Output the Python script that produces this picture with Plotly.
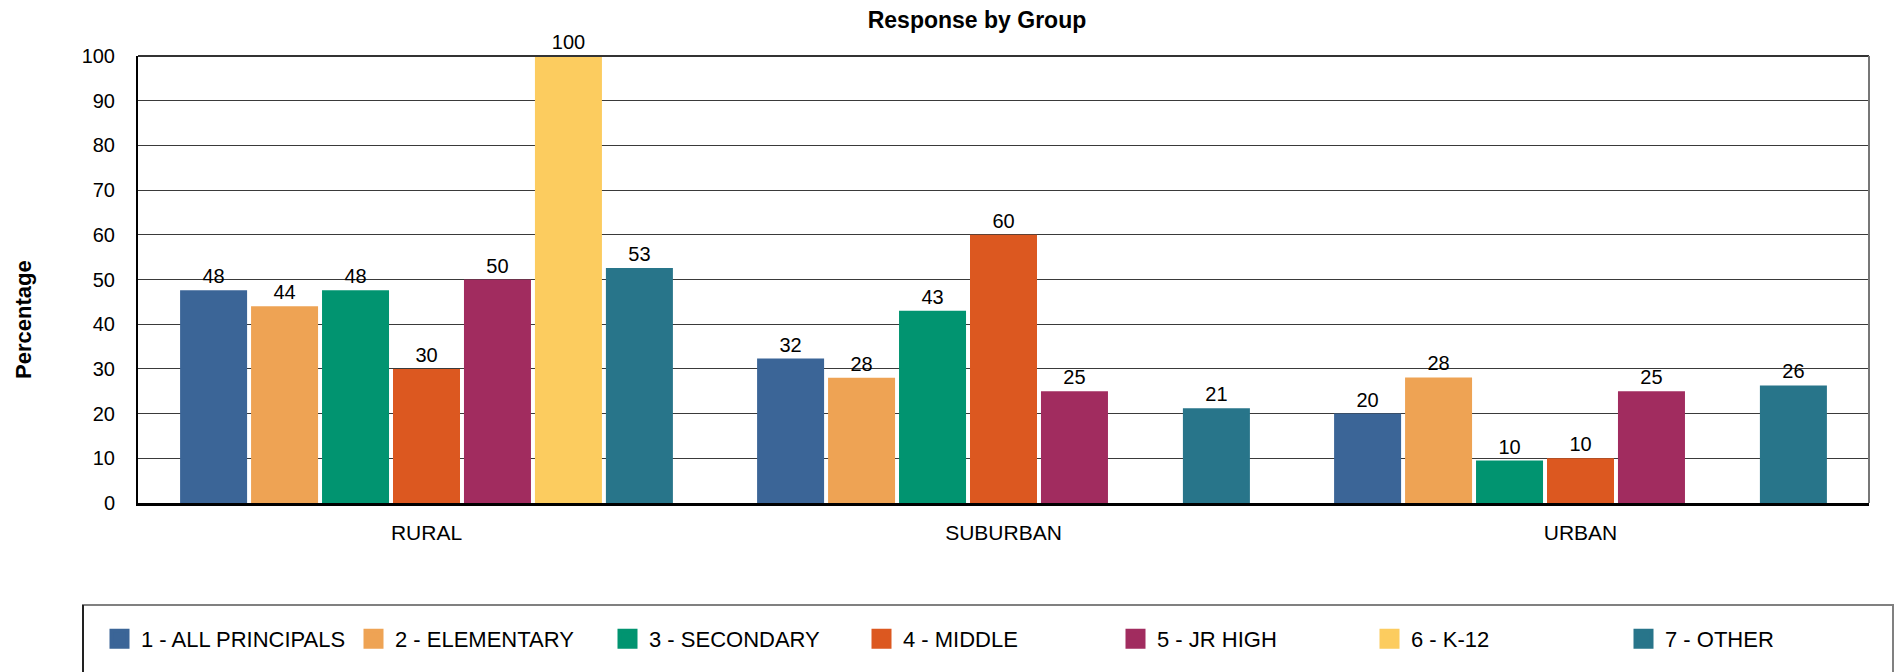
import plotly.graph_objects as go

categories = ["RURAL", "SUBURBAN", "URBAN"]
series_names = ["1 - ALL PRINCIPALS", "2 - ELEMENTARY", "3 - SECONDARY", "4 - MIDDLE",
                "5 - JR HIGH", "6 - K-12", "7 - OTHER"]
colors = ["#3B6597", "#EEA354", "#019470", "#DC5820", "#A12C5F", "#FCCC5F", "#28758A"]

all_principals = [47.6, 32.3, 20.0]
elementary = [44.0, 28.0, 28.1]
secondary = [47.6, 43.0, 9.5]
middle = [30.0, 60.0, 10.0]
jr_high = [50.0, 25.0, 25.0]
k12 = [100.0, None, None]
other = [52.6, 21.2, 26.3]

series_values = [all_principals, elementary, secondary, middle, jr_high, k12, other]

W, H = 1904, 672
L, R, T, B = 138, 1869, 56, 503
FONT = "Liberation Sans, Arial, sans-serif"

fig = go.Figure()
for name, vals, col in zip(series_names, series_values, colors):
    fig.add_trace(go.Bar(
        name=name, x=categories, y=vals, marker_color=col, marker_line_width=0,
        text=[None if v is None else f"{v:.0f}" for v in vals],
        textposition="outside", textfont=dict(size=20, color="#000", family=FONT),
        cliponaxis=False, showlegend=False,
    ))
# legend entries (square swatches)
for name, col in zip(series_names, colors):
    fig.add_trace(go.Scatter(
        name=name, x=[None], y=[None], mode="markers",
        marker=dict(symbol="square", size=16, color=col, line=dict(color=col, width=4)),
        showlegend=True,
    ))

def px(x):
    return (x - L) / (R - L)

def py(y):
    return (B - y) / (B - T)

fig.update_layout(
    width=W, height=H,
    margin=dict(l=L, r=W - R, t=T, b=H - B, autoexpand=False),
    paper_bgcolor="white", plot_bgcolor="white",
    font=dict(family=FONT, size=20, color="#000"),
    barmode="group", bargap=0.139, bargroupgap=0.056,
    title=dict(text="<b>Response by Group</b>", x=977 / W, xanchor="center",
               y=1 - 20 / H, yanchor="middle", font=dict(size=23, family=FONT)),
    showlegend=True,
    legend=dict(orientation="h", xref="paper", yref="paper",
                x=px(98), xanchor="left", y=py(639), yanchor="middle",
                font=dict(size=22, family=FONT), itemwidth=33,
                entrywidth=206, entrywidthmode="pixels",
                bgcolor="rgba(0,0,0,0)", traceorder="normal"),
    xaxis=dict(showline=True, linecolor="#000", linewidth=3, showgrid=False,
               ticks="", ticklabelstandoff=9, tickfont=dict(size=21)),
    yaxis=dict(range=[0, 100], dtick=10, showline=True, linecolor="#000", linewidth=2,
               showgrid=True, gridcolor="#3a3a3a", gridwidth=1, ticks="",
               ticklabelstandoff=17, tickfont=dict(size=20), zeroline=False),
    shapes=[
        dict(type="line", xref="paper", yref="paper", x0=0, x1=1, y0=1, y1=1,
             line=dict(color="#333", width=2), layer="above"),
        dict(type="line", xref="paper", yref="paper", x0=1, x1=1, y0=0, y1=1,
             line=dict(color="#777", width=2), layer="above"),
        dict(type="rect", xref="paper", yref="paper", x0=px(83), x1=px(1893),
             y0=py(605), y1=py(700), line=dict(color="#808080", width=2)),
        dict(type="line", xref="paper", yref="paper", x0=px(83), x1=px(83),
             y0=py(605), y1=py(700), line=dict(color="#222", width=2)),
    ],
    annotations=[
        dict(text="<b>Percentage</b>", xref="paper", yref="paper", x=px(23), y=py(320),
             textangle=-90, showarrow=False, font=dict(size=22, family=FONT),
             xanchor="center", yanchor="middle"),
    ],
)

fig.write_html("out.html", config={"displayModeBar": False},
               post_script="document.body.style.margin='0';document.body.style.overflow='hidden';")
